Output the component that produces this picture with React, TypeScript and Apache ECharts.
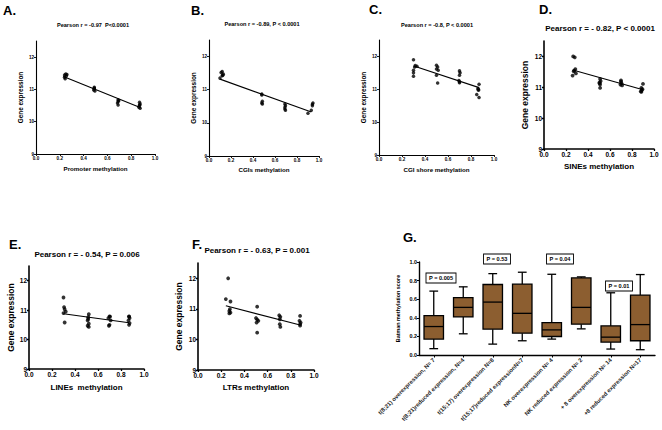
import React, { useEffect, useRef } from "react";
import * as echarts from "echarts";

const FONT = "Liberation Sans, Arial, sans-serif";

// ---------- data ----------
const xTicks = [0, 0.2, 0.4, 0.6, 0.8, 1.0];
const yTicks = [9, 10, 11, 12];

const pointsA = [
  [0.24, 11.45], [0.24, 11.38], [0.245, 11.33], [0.25, 11.48], [0.255, 11.42], [0.26, 11.46],
  [0.49, 11.07], [0.49, 11.02], [0.485, 10.98], [0.495, 10.95], [0.49, 11.04],
  [0.69, 10.68], [0.69, 10.63], [0.685, 10.58], [0.69, 10.52], [0.695, 10.65],
  [0.87, 10.6], [0.875, 10.55], [0.87, 10.5], [0.865, 10.45], [0.875, 10.42], [0.87, 10.52],
];
const fitA = [[0.23, 11.4], [0.88, 10.43]];

const pointsB = [
  [0.1, 11.35], [0.11, 11.52], [0.12, 11.55], [0.125, 11.44], [0.13, 11.47], [0.12, 11.42],
  [0.48, 10.87], [0.48, 10.84], [0.485, 10.65], [0.48, 10.6], [0.485, 10.57],
  [0.69, 10.57], [0.695, 10.52], [0.69, 10.47], [0.69, 10.42], [0.695, 10.38],
  [0.9, 10.29], [0.93, 10.38], [0.94, 10.52], [0.945, 10.6], [0.94, 10.56],
];
const fitB = [[0.1, 11.32], [0.93, 10.33]];

const pointsC = [
  [0.3, 11.9], [0.3, 11.58], [0.3, 11.4], [0.31, 11.68], [0.315, 11.72], [0.33, 11.7], [0.3, 11.5],
  [0.5, 11.73], [0.51, 11.68], [0.515, 11.58], [0.5, 11.43], [0.51, 11.19], [0.5, 11.62],
  [0.7, 11.56], [0.705, 11.5], [0.7, 11.43], [0.695, 11.27], [0.7, 11.2], [0.7, 11.23],
  [0.87, 11.15], [0.86, 11.02], [0.865, 10.97], [0.85, 10.84], [0.87, 10.75], [0.865, 11.0],
];
const fitC = [[0.31, 11.7], [0.87, 11.05]];

const pointsD = [
  [0.265, 12.0], [0.28, 11.97], [0.26, 11.38], [0.275, 11.54], [0.285, 11.59], [0.29, 11.45], [0.27, 11.52],
  [0.51, 11.27], [0.505, 11.16], [0.51, 11.09], [0.51, 10.98], [0.515, 11.2], [0.505, 11.13],
  [0.7, 11.22], [0.705, 11.13], [0.695, 11.09], [0.7, 11.18], [0.71, 11.06],
  [0.9, 11.11], [0.885, 10.98], [0.89, 10.91], [0.88, 10.87], [0.895, 10.94], [0.885, 10.85],
];
const fitD = [[0.27, 11.55], [0.9, 10.92]];

const pointsE = [
  [0.3, 11.43], [0.305, 11.1], [0.31, 11.03], [0.3, 10.9], [0.32, 10.95], [0.31, 10.58],
  [0.52, 10.86], [0.515, 10.76], [0.51, 10.65], [0.52, 10.54], [0.51, 10.47], [0.515, 10.7], [0.52, 10.43],
  [0.7, 10.79], [0.69, 10.73], [0.71, 10.65], [0.7, 10.5], [0.695, 10.47], [0.705, 10.78],
  [0.87, 10.79], [0.875, 10.73], [0.865, 10.65], [0.875, 10.56], [0.87, 10.5], [0.87, 10.78],
];
const fitE = [[0.3, 10.88], [0.87, 10.57]];

const pointsF = [
  [0.26, 12.0], [0.24, 11.32], [0.28, 11.24], [0.275, 10.99], [0.27, 10.93], [0.28, 10.88], [0.27, 10.85],
  [0.51, 11.07], [0.5, 10.7], [0.52, 10.61], [0.505, 10.55], [0.51, 10.22], [0.51, 10.65],
  [0.7, 10.79], [0.71, 10.74], [0.705, 10.66], [0.705, 10.5], [0.71, 10.41],
  [0.88, 10.77], [0.875, 10.61], [0.885, 10.55], [0.88, 10.45], [0.88, 10.5],
];
const fitF = [[0.24, 11.1], [0.88, 10.47]];

const boxCategories = [
  "t(8;21) overexpression, N= 7",
  "t(8;21)reduced expression, N=4",
  "t(15;17) overexpression N=8",
  "t(15;17)reduced expressionN=7",
  "NK overexpression N= 4",
  "NK reduced expression N= 2",
  "+ 8 overexpression N= 14",
  "+8 reduced expression N=17",
];
const boxMin = [0.068, 0.228, 0.117, 0.153, 0.171, 0.281, 0.064, 0.057];
const boxQ1 = [0.171, 0.409, 0.278, 0.235, 0.199, 0.331, 0.139, 0.153];
const boxMedian = [0.306, 0.512, 0.569, 0.448, 0.27, 0.512, 0.192, 0.327];
const boxQ3 = [0.423, 0.616, 0.758, 0.762, 0.349, 0.829, 0.313, 0.644];
const boxMax = [0.687, 0.733, 0.875, 0.89, 0.868, 0.84, 0.669, 0.865];
const boxTicks = [0, 0.2, 0.4, 0.6, 0.8, 1.0];
const pValues = ["P = 0.005", "P = 0.53", "P = 0.04", "P = 0.01"];

// ---------- layout ----------
type Panel = {
  letter: string;
  title: string;
  xName: string;
  pts: number[][];
  fit: number[][];
  grid: { left: number; top: number; width: number; height: number };
  big: boolean;
  label: [number, number];
  titlePos: [number, number];
  xGap: number;
  yGap: number;
};

const panels: Panel[] = [
  { letter: "A.", title: "Pearson r = -0.97  P<0.0001", xName: "Promoter methylation", pts: pointsA, fit: fitA,
    grid: { left: 36, top: 41, width: 119, height: 113 }, big: false, label: [3, 4], titlePos: [93, 25], xGap: 11, yGap: 13 },
  { letter: "B.", title: "Pearson r = -0.89, P < 0.0001", xName: "CGIs methylation", pts: pointsB, fit: fitB,
    grid: { left: 209, top: 40, width: 110, height: 116 }, big: false, label: [191, 4], titlePos: [262, 24], xGap: 10, yGap: 13 },
  { letter: "C.", title: "Pearson r = -0.8, P < 0.0001", xName: "CGI shore methylation", pts: pointsC, fit: fitC,
    grid: { left: 379, top: 40, width: 115, height: 115 }, big: false, label: [369, 3], titlePos: [437, 25], xGap: 11, yGap: 13 },
  { letter: "D.", title: "Pearson r = - 0.82, P < 0.0001", xName: "SINEs methylation", pts: pointsD, fit: fitD,
    grid: { left: 544, top: 41, width: 110, height: 108 }, big: true, label: [539, 3], titlePos: [600, 28], xGap: 13, yGap: 15 },
  { letter: "E.", title: "Pearson r = - 0.54, P = 0.006", xName: "LINEs  methylation", pts: pointsE, fit: fitE,
    grid: { left: 29, top: 266, width: 115, height: 103 }, big: true, label: [9, 238], titlePos: [87, 254], xGap: 14, yGap: 12 },
  { letter: "F.", title: "Pearson r = - 0.63, P = 0.001", xName: "LTRs methylation", pts: pointsF, fit: fitF,
    grid: { left: 198, top: 263, width: 116, height: 107 }, big: true, label: [192, 238], titlePos: [257, 250], xGap: 13, yGap: 15 },
];

const BROWN = "#8c5e30";

export default function App() {
  const ref = useRef<HTMLDivElement>(null);
  useEffect(() => {
    if (!ref.current) return;
    const chart = echarts.init(ref.current, undefined, { renderer: "svg" });

    const grids: any[] = [];
    const xAxes: any[] = [];
    const yAxes: any[] = [];
    const series: any[] = [];
    const graphics: any[] = [];

    panels.forEach((p, i) => {
      const lw = p.big ? 1.6 : 1.1;
      const tickFs = p.big ? 6.5 : 4.6;
      const nameFs = p.big ? 8 : 6.2;
      grids.push({ ...p.grid, containLabel: false });
      xAxes.push({
        type: "value", gridIndex: i, min: 0, max: 1, interval: 0.2,
        name: p.xName, nameLocation: "middle", nameGap: p.xGap,
        nameTextStyle: { fontFamily: FONT, fontWeight: "bold", fontSize: nameFs, color: "#000" },
        axisLine: { show: true, onZero: false, lineStyle: { color: "#000", width: lw } },
        axisTick: { show: true, length: 2, lineStyle: { color: "#000", width: lw * 0.8 }, customValues: xTicks },
        axisLabel: { fontFamily: FONT, fontWeight: "bold", fontSize: tickFs, color: "#000", margin: 2,
          customValues: xTicks, formatter: (v: number) => v.toFixed(1) },
        splitLine: { show: false },
      });
      yAxes.push({
        type: "value", gridIndex: i, min: 9, max: 12.5,
        name: "Gene expression", nameLocation: "middle", nameGap: p.yGap, nameRotate: 90,
        nameTextStyle: { fontFamily: FONT, fontWeight: "bold", fontSize: p.big ? 8.5 : 6.4, color: "#000" },
        axisLine: { show: true, onZero: false, lineStyle: { color: "#000", width: lw } },
        axisTick: { show: true, length: 2, lineStyle: { color: "#000", width: lw * 0.8 }, customValues: yTicks },
        axisLabel: { fontFamily: FONT, fontWeight: "bold", fontSize: tickFs, color: "#000", margin: 2, customValues: yTicks },
        splitLine: { show: false },
      });
      series.push({
        type: "scatter", xAxisIndex: i, yAxisIndex: i, data: p.pts, symbolSize: p.big ? 3.8 : 3.5,
        itemStyle: { color: "#000" },
      });
      series.push({
        type: "line", xAxisIndex: i, yAxisIndex: i, data: p.fit, symbol: "none",
        lineStyle: { color: "#000", width: 1.1 },
      });
      graphics.push({
        type: "text", left: p.label[0], top: p.label[1],
        style: { text: p.letter, font: `bold 13px ${FONT}`, fill: "#000" },
      });
      graphics.push({
        type: "text", x: p.titlePos[0], y: p.titlePos[1],
        style: { text: p.title, font: `bold ${p.big ? 8 : 5.6}px ${FONT}`, fill: "#000", align: "center", verticalAlign: "middle" },
      });
    });

    // panel G (box plot)
    const gi = panels.length;
    grids.push({ left: 419, top: 262, width: 236, height: 93 });
    xAxes.push({
      type: "category", gridIndex: gi, data: boxCategories,
      axisLine: { show: true, lineStyle: { color: "#000", width: 1.4 } },
      axisTick: { show: true, alignWithLabel: true, length: 2.5, lineStyle: { color: "#000", width: 1 } },
      axisLabel: { interval: 0, rotate: 45, fontFamily: FONT, fontWeight: "bold", fontSize: 5.8, color: "#222", margin: 4 },
    });
    yAxes.push({
      type: "value", gridIndex: gi, min: 0, max: 1, interval: 0.2,
      name: "Batman methylation score", nameLocation: "middle", nameGap: 19,
      nameTextStyle: { fontFamily: FONT, fontWeight: "bold", fontSize: 5.4, color: "#000" },
      axisLine: { show: true, lineStyle: { color: "#000", width: 1.4 } },
      axisTick: { show: true, length: 2, lineStyle: { color: "#000", width: 1 }, customValues: boxTicks },
      axisLabel: { fontFamily: FONT, fontWeight: "bold", fontSize: 5.4, color: "#000", margin: 2,
        customValues: boxTicks, formatter: (v: number) => v.toFixed(1) },
      splitLine: { show: false },
    });
    const boxData = boxCategories.map((_, i) => [i, boxMin[i], boxQ1[i], boxMedian[i], boxQ3[i], boxMax[i]]);
    series.push({
      type: "custom", xAxisIndex: gi, yAxisIndex: gi, data: boxData,
      encode: { x: 0, y: [1, 2, 3, 4, 5] },
      renderItem: (params: any, api: any) => {
        const i = api.value(0);
        const lo = api.coord([i, api.value(1)]);
        const q1 = api.coord([i, api.value(2)]);
        const md = api.coord([i, api.value(3)]);
        const q3 = api.coord([i, api.value(4)]);
        const hi = api.coord([i, api.value(5)]);
        const bw = api.size([1, 0])[0] * 0.66;
        const cx = lo[0];
        const cap = bw * 0.45;
        const ls = { stroke: "#000", lineWidth: 1.3 };
        return {
          type: "group",
          children: [
            { type: "line", shape: { x1: cx, y1: q3[1], x2: cx, y2: hi[1] }, style: ls },
            { type: "line", shape: { x1: cx, y1: lo[1], x2: cx, y2: q1[1] }, style: ls },
            { type: "line", shape: { x1: cx - cap / 2, y1: hi[1], x2: cx + cap / 2, y2: hi[1] }, style: ls },
            { type: "line", shape: { x1: cx - cap / 2, y1: lo[1], x2: cx + cap / 2, y2: lo[1] }, style: ls },
            { type: "rect", shape: { x: cx - bw / 2, y: q3[1], width: bw, height: q1[1] - q3[1] },
              style: { fill: BROWN, stroke: "#000", lineWidth: 1.3 } },
            { type: "line", shape: { x1: cx - bw / 2, y1: md[1], x2: cx + bw / 2, y2: md[1] }, style: ls },
          ],
        };
      },
    });
    graphics.push({
      type: "text", left: 403, top: 231,
      style: { text: "G.", font: `bold 13px ${FONT}`, fill: "#000" },
    });
    const pPos = [[441, 278], [497, 259], [560, 259], [619, 286]];
    pValues.forEach((t, k) => {
      graphics.push({
        type: "text", x: pPos[k][0], y: pPos[k][1], z: 100,
        style: {
          text: t, font: `bold 5.6px ${FONT}`, fill: "#000", align: "center", verticalAlign: "middle",
          backgroundColor: "#fff", borderColor: "#000", borderWidth: 0.9, padding: [1.5, 2.5],
        },
      });
    });

    chart.setOption({
      animation: false,
      backgroundColor: "#fff",
      grid: grids,
      xAxis: xAxes,
      yAxis: yAxes,
      series,
      graphic: graphics,
    });
    return () => chart.dispose();
  }, []);
  return <div ref={ref} style={{ position: "absolute", left: 0, top: 0, width: 662, height: 430 }} />;
}
